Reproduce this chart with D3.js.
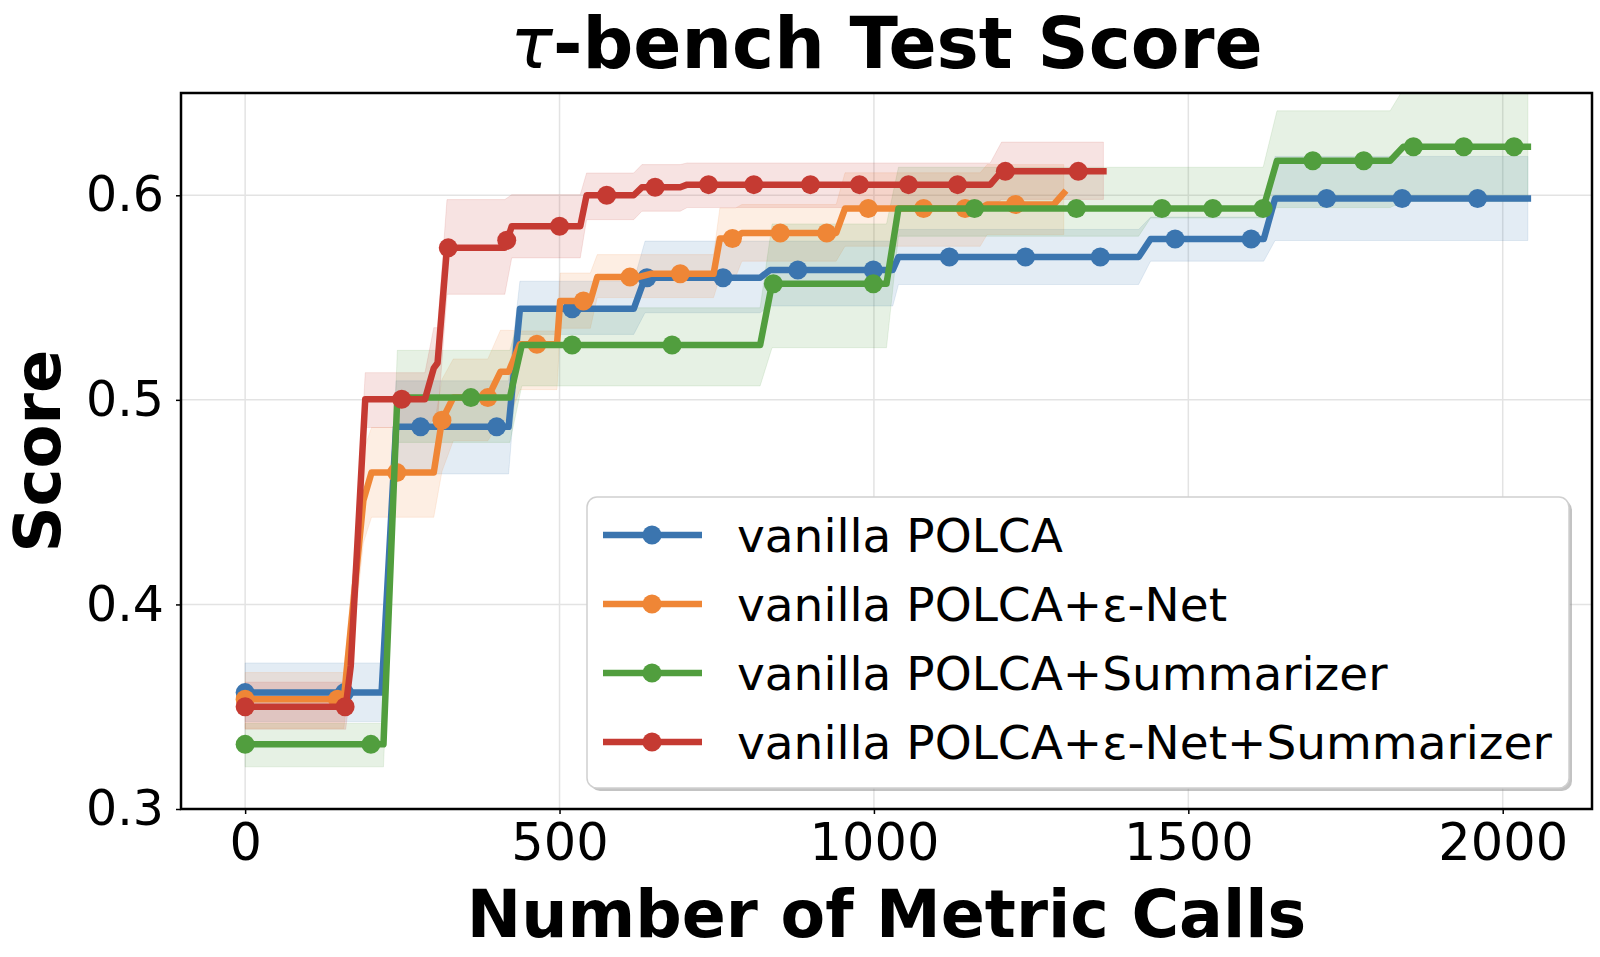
<html><head>
<meta charset="utf-8">
<title>tau-bench Test Score</title>
<script type="text/javascript" src="https://d3js.org/d3.v7.min.js"></script>
<style>
  body { margin: 0; background: #fff; }
  text { font-family: "DejaVu Sans", sans-serif; }
</style>
</head>
<body>
<div id="chart"></div>

<script>

// tick labels
var xTicks = [0, 500, 1000, 1500, 2000];
var yTicks = [0.3, 0.4, 0.5, 0.6];

var seriesNames = ["vanilla POLCA", "vanilla POLCA+\u03b5-Net", "vanilla POLCA+Summarizer", "vanilla POLCA+\u03b5-Net+Summarizer"];

// vanilla POLCA
var blueX  = [0, 217, 240, 419, 437, 618, 636, 819, 835, 1030, 1039, 1421, 1440, 1620, 1638, 2040];
var blueY  = [0.3569, 0.3569, 0.4868, 0.4868, 0.5445, 0.5445, 0.5597, 0.5597, 0.5635, 0.5635, 0.5698, 0.5698, 0.5786, 0.5786, 0.5984, 0.5984];
var blueLo = [0.3426, 0.3426, 0.4638, 0.4638, 0.532, 0.532, 0.5426, 0.5426, 0.5459, 0.5459, 0.5564, 0.5564, 0.5678, 0.5678, 0.5779, 0.5779];
var blueHi = [0.3714, 0.3714, 0.5093, 0.5093, 0.558, 0.558, 0.5776, 0.5776, 0.5776, 0.5776, 0.5833, 0.5833, 0.5893, 0.5893, 0.619, 0.619];
var blueMarkX = [0, 158, 279, 400, 520, 639, 760, 879, 999, 1120, 1241, 1360, 1479, 1600, 1720, 1840, 1960];
var blueMarkY = [0.3569, 0.3569, 0.4868, 0.4868, 0.5445, 0.5597, 0.5597, 0.5635, 0.5635, 0.5698, 0.5698, 0.5698, 0.5786, 0.5786, 0.5984, 0.5984, 0.5984];

// vanilla POLCA + eps-Net
var orangeX  = [0, 157, 188, 201, 300, 313, 331, 386, 406, 419, 437, 496, 501, 549, 560, 625, 645, 745, 755, 780, 790, 940, 954, 1169, 1180, 1286, 1302];
var orangeY  = [0.3537, 0.3537, 0.4507, 0.4645, 0.4645, 0.490, 0.5011, 0.5011, 0.5137, 0.5137, 0.5272, 0.5272, 0.5483, 0.5483, 0.5600, 0.5600, 0.5616, 0.5616, 0.5789, 0.5789, 0.5816, 0.5816, 0.5935, 0.5935, 0.5955, 0.5955, 0.6011];
var orangeLo = [0.3394, 0.3394, 0.430, 0.4426, 0.4426, 0.465, 0.480, 0.480, 0.490, 0.490, 0.505, 0.505, 0.535, 0.535, 0.550, 0.550, 0.550, 0.550, 0.560, 0.560, 0.5678, 0.5678, 0.5751, 0.5751, 0.5808, 0.5808, 0.5808];
var orangeHi = [0.3667, 0.3667, 0.475, 0.4865, 0.4865, 0.510, 0.520, 0.520, 0.534, 0.534, 0.5337, 0.5337, 0.562, 0.562, 0.571, 0.571, 0.571, 0.571, 0.5938, 0.5938, 0.5955, 0.5955, 0.611, 0.611, 0.615, 0.615, 0.615];
var orangeMarkX = [0, 147, 241, 313, 386, 464, 538, 612, 692, 775, 851, 925, 991, 1079, 1145, 1225];
var orangeMarkY = [0.3537, 0.3537, 0.4645, 0.490, 0.5011, 0.5272, 0.5483, 0.5600, 0.5616, 0.5789, 0.5816, 0.5816, 0.5935, 0.5935, 0.5935, 0.5955];

// vanilla POLCA + Summarizer
var greenX  = [0, 220, 242, 421, 440, 819, 838, 1020, 1039, 1421, 1440, 1619, 1641, 1821, 1842, 2040];
var greenY  = [0.3316, 0.3316, 0.5011, 0.5011, 0.5268, 0.5268, 0.5568, 0.5568, 0.5935, 0.5935, 0.5935, 0.5935, 0.6169, 0.6169, 0.6237, 0.6237];
var greenLo = [0.3206, 0.3206, 0.4792, 0.4792, 0.5068, 0.5068, 0.5255, 0.5255, 0.580, 0.580, 0.5889, 0.5889, 0.594, 0.594, 0.597, 0.597];
var greenHi = [0.3418, 0.3418, 0.5242, 0.5242, 0.545, 0.545, 0.586, 0.586, 0.6137, 0.6137, 0.6137, 0.6137, 0.6413, 0.6413, 0.652, 0.652];
var greenMarkX = [0, 200, 359, 520, 679, 840, 999, 1160, 1322, 1458, 1539, 1619, 1698, 1779, 1858, 1938, 2018];
var greenMarkY = [0.3316, 0.3316, 0.5011, 0.5268, 0.5268, 0.5568, 0.5568, 0.5935, 0.5935, 0.5935, 0.5935, 0.5935, 0.6169, 0.6169, 0.6237, 0.6237, 0.6237];

// vanilla POLCA + eps-Net + Summarizer
var redX  = [0, 160, 168, 191, 286, 300, 306, 321, 413, 424, 533, 543, 618, 631, 692, 703, 1185, 1203, 1365];
var redY  = [0.350, 0.350, 0.370, 0.5003, 0.5003, 0.5155, 0.518, 0.5743, 0.5743, 0.5849, 0.5849, 0.600, 0.600, 0.6039, 0.6039, 0.6052, 0.6052, 0.6117, 0.6117];
var redLo = [0.339, 0.339, 0.360, 0.4865, 0.4865, 0.490, 0.490, 0.5516, 0.5516, 0.5694, 0.5694, 0.5881, 0.5881, 0.5922, 0.5922, 0.594, 0.594, 0.598, 0.598];
var redHi = [0.362, 0.362, 0.385, 0.5133, 0.5133, 0.5353, 0.5353, 0.5979, 0.5979, 0.6003, 0.6003, 0.6109, 0.6109, 0.615, 0.615, 0.6158, 0.6158, 0.626, 0.626];
var redMarkX = [0, 159, 249, 323, 416, 500, 575, 652, 737, 809, 899, 977, 1055, 1133, 1209, 1325];
var redMarkY = [0.350, 0.350, 0.5003, 0.5743, 0.578, 0.5849, 0.600, 0.6039, 0.6052, 0.6052, 0.6052, 0.6052, 0.6052, 0.6052, 0.6117, 0.6117];

var colors = ["#3b75af", "#ef8636", "#519e3e", "#c53a32"];

// put each series together
function pack(xs, ys, lo, hi) {
  return xs.map(function(v, i) { return { x: v, y: ys[i], lo: lo[i], hi: hi[i] }; });
}
function packMarks(xs, ys) {
  return xs.map(function(v, i) { return { x: v, y: ys[i] }; });
}
var series = [
  { pts: pack(blueX, blueY, blueLo, blueHi), marks: packMarks(blueMarkX, blueMarkY) },
  { pts: pack(orangeX, orangeY, orangeLo, orangeHi), marks: packMarks(orangeMarkX, orangeMarkY) },
  { pts: pack(greenX, greenY, greenLo, greenHi), marks: packMarks(greenMarkX, greenMarkY) },
  { pts: pack(redX, redY, redLo, redHi), marks: packMarks(redMarkX, redMarkY) }
];

var W = 1600, H = 957;
var plot = { left: 181, right: 1592, top: 93, bottom: 809 };
var lineW = 6.5, dotR = 9.5;

var svg = d3.select("#chart")
  .append("svg")
    .attr("width", W)
    .attr("height", H);

// scales (5% padding on x like matplotlib)
var xScale = d3.scaleLinear().domain([-102, 2142]).range([plot.left, plot.right]);
var yScale = d3.scaleLinear().domain([0.3, 0.65]).range([plot.bottom, plot.top]);

svg.append("clipPath").attr("id", "clip")
  .append("rect")
    .attr("x", plot.left).attr("y", plot.top)
    .attr("width", plot.right - plot.left).attr("height", plot.bottom - plot.top);

//grid
var grid = svg.append("g");
grid.selectAll("line.gx").data(xTicks).enter().append("line")
    .attr("x1", function(d) { return xScale(d); }).attr("x2", function(d) { return xScale(d); })
    .attr("y1", plot.top).attr("y2", plot.bottom)
    .attr("stroke", "#e3e3e3").attr("stroke-width", 1.5);
grid.selectAll("line.gy").data(yTicks).enter().append("line")
    .attr("y1", function(d) { return yScale(d); }).attr("y2", function(d) { return yScale(d); })
    .attr("x1", plot.left).attr("x2", plot.right)
    .attr("stroke", "#e3e3e3").attr("stroke-width", 1.5);

var inner = svg.append("g").attr("clip-path", "url(#clip)");

//bands
var band = d3.area()
    .x(function(d) { return xScale(d.x); })
    .y0(function(d) { return yScale(d.lo); })
    .y1(function(d) { return yScale(d.hi); });

series.forEach(function(s, i) {
  inner.append("path")
    .datum(s.pts)
    .attr("fill", colors[i])
    .attr("fill-opacity", 0.14)
    .attr("stroke", colors[i])
    .attr("stroke-opacity", 0.12)
    .attr("stroke-width", 1)
    .attr("d", band);
});

//lines + markers
var line = d3.line()
    .x(function(d) { return xScale(d.x); })
    .y(function(d) { return yScale(d.y); });

series.forEach(function(s, i) {
  inner.append("path")
    .datum(s.pts)
    .attr("fill", "none")
    .attr("stroke", colors[i])
    .attr("stroke-width", lineW)
    .attr("stroke-linejoin", "round")
    .attr("stroke-linecap", "square")
    .attr("d", line);

  inner.selectAll("circle.m" + i)
    .data(s.marks)
    .enter().append("circle")
      .attr("cx", function(d) { return xScale(d.x); })
      .attr("cy", function(d) { return yScale(d.y); })
      .attr("r", dotR)
      .attr("fill", colors[i]);
});

//X axis
var xAxis = d3.axisBottom(xScale).tickValues(xTicks).tickSize(5).tickPadding(7).tickFormat(d3.format("d"));
var gx = svg.append("g")
    .attr("transform", "translate(0," + plot.bottom + ")")
    .call(xAxis);
gx.select(".domain").remove();
gx.selectAll("text").style("font-size", "51px").attr("fill", "#000").attr("dy", "0.76em");
gx.selectAll("line").attr("stroke-width", 1.5);

//Y axis
var yAxis = d3.axisLeft(yScale).tickValues(yTicks).tickSize(5).tickPadding(12).tickFormat(d3.format(".1f"));
var gy = svg.append("g")
    .attr("transform", "translate(" + plot.left + ",0)")
    .call(yAxis);
gy.select(".domain").remove();
gy.selectAll("text").style("font-size", "49px").attr("fill", "#000");
gy.selectAll("line").attr("stroke-width", 1.5);

//frame
svg.append("rect")
    .attr("x", plot.left).attr("y", plot.top)
    .attr("width", plot.right - plot.left).attr("height", plot.bottom - plot.top)
    .attr("fill", "none").attr("stroke", "#000").attr("stroke-width", 2.5);

//title + labels
var title = svg.append("text")
    .attr("x", (plot.left + plot.right) / 2)
    .attr("y", 68)
    .attr("text-anchor", "middle")
    .style("font-size", "71px")
    .style("font-weight", "bold");
title.append("tspan").style("font-style", "italic").style("font-weight", "normal").text("\u03c4");
title.append("tspan").text("-bench Test Score");

svg.append("text")
    .attr("x", (plot.left + plot.right) / 2)
    .attr("y", 937)
    .attr("text-anchor", "middle")
    .style("font-size", "65px")
    .style("font-weight", "bold")
    .text("Number of Metric Calls");

svg.append("text")
    .attr("transform", "translate(60," + ((plot.top + plot.bottom) / 2) + ") rotate(-90)")
    .attr("text-anchor", "middle")
    .style("font-size", "64px")
    .style("font-weight", "bold")
    .text("Score");

//legend
var lg = { x: 587, y: 497, w: 982, h: 291 };
var rowY = [535, 604, 673, 742];

svg.append("rect")
    .attr("x", lg.x + 3).attr("y", lg.y + 3)
    .attr("width", lg.w).attr("height", lg.h)
    .attr("rx", 10)
    .attr("fill", "#888").attr("fill-opacity", 0.5);
svg.append("rect")
    .attr("x", lg.x).attr("y", lg.y)
    .attr("width", lg.w).attr("height", lg.h)
    .attr("rx", 10)
    .attr("fill", "#fff").attr("stroke", "#d0d0d0").attr("stroke-width", 1.5);

seriesNames.forEach(function(name, i) {
  var g = svg.append("g");
  g.append("line")
    .attr("x1", 603).attr("x2", 702)
    .attr("y1", rowY[i]).attr("y2", rowY[i])
    .attr("stroke", colors[i]).attr("stroke-width", lineW);
  g.append("circle")
    .attr("cx", 652).attr("cy", rowY[i]).attr("r", dotR)
    .attr("fill", colors[i]);
  g.append("text")
    .attr("x", 737).attr("y", rowY[i] + 17)
    .style("font-size", "47px")
    .text(name);
});

</script>
</body></html>
